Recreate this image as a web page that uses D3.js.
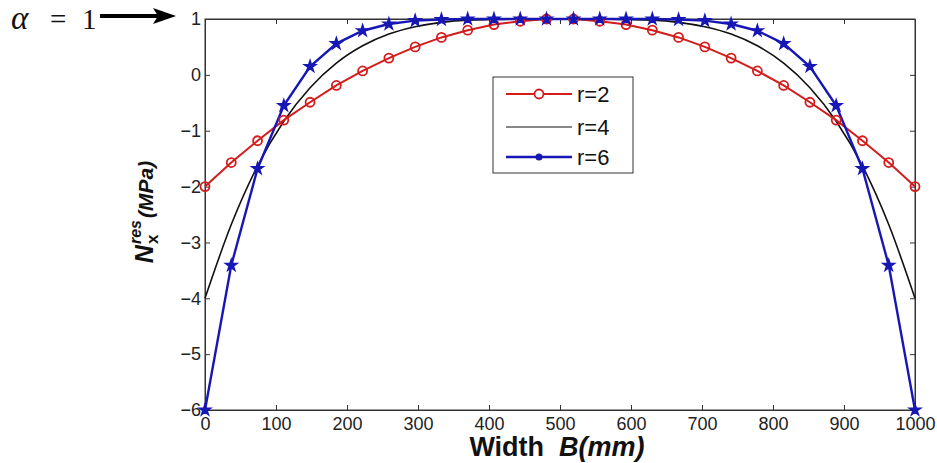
<!DOCTYPE html>
<html>
<head>
<meta charset="utf-8">
<script src="https://cdn.jsdelivr.net/npm/d3@7"></script>
<style>
  body { margin: 0; background: #fff; }
  svg { display: block; font-family: "Liberation Sans", Arial, sans-serif; }
  .axis text { font-size: 18px; fill: #222; }
  .axis path, .axis line { stroke: #333; }
</style>
</head>
<body>
<svg id="chart" width="937" height="463"></svg>
<script>
// width positions (mm) of the plotted points
var widths = [0, 37, 74, 111, 148, 185, 222, 259, 296, 333, 370, 407, 444, 481,
              519, 556, 593, 630, 667, 704, 741, 778, 815, 852, 889, 926, 963, 1000];
// N_x^res (MPa)
var r2 = [-2.00, -1.57, -1.18, -0.81, -0.49, -0.19, 0.07, 0.30, 0.50, 0.67, 0.80, 0.90, 0.96, 1.00,
          1.00, 0.96, 0.90, 0.80, 0.67, 0.50, 0.30, 0.07, -0.19, -0.49, -0.81, -1.18, -1.57, -2.00];
var r4 = [-4.00, -2.68, -1.63, -0.83, -0.23, 0.21, 0.52, 0.73, 0.86, 0.94, 0.98, 0.99, 1.00, 1.00,
          1.00, 1.00, 0.99, 0.98, 0.94, 0.86, 0.73, 0.52, 0.21, -0.23, -0.83, -1.63, -2.68, -4.00];
var r6 = [-6.00, -3.41, -1.68, -0.55, 0.15, 0.56, 0.79, 0.91, 0.97, 0.99, 1.00, 1.00, 1.00, 1.00,
          1.00, 1.00, 1.00, 1.00, 0.99, 0.97, 0.91, 0.79, 0.56, 0.15, -0.55, -1.68, -3.41, -6.00];
var seriesNames = ["r=2", "r=4", "r=6"];
var xTicks = [0, 100, 200, 300, 400, 500, 600, 700, 800, 900, 1000];
var yTicks = [-6, -5, -4, -3, -2, -1, 0, 1];

(function () {
    var margin = { left: 205, top: 19, right: 22, bottom: 53 };
    var dim = { width: 937 - margin.left - margin.right, height: 463 - margin.top - margin.bottom };
    var x = d3.scaleLinear().domain([0, 1000]).range([0, dim.width]);
    var y = d3.scaleLinear().domain([-6, 1]).range([dim.height, 0]);
    var fmt = d3.format("d");

    var svg = d3.select("#chart");
    var chart = svg.append("g")
        .attr("transform", "translate(" + margin.left + "," + margin.top + ")");

    // frame + inward ticks (matlab style)
    chart.append("rect").attr("width", dim.width).attr("height", dim.height)
        .attr("fill", "#fff").attr("stroke", "#333");
    chart.append("g").attr("class", "x axis")
        .attr("transform", "translate(0," + dim.height + ")")
        .call(d3.axisBottom(x).tickValues(xTicks).tickFormat(fmt).tickSize(-5).tickSizeOuter(0).tickPadding(7));
    chart.append("g").attr("class", "x axis top")
        .call(d3.axisTop(x).tickValues(xTicks).tickSize(-5).tickSizeOuter(0).tickFormat(""));
    chart.append("g").attr("class", "y axis")
        .call(d3.axisLeft(y).tickValues(yTicks).tickFormat(fmt).tickSize(-5).tickSizeOuter(0).tickPadding(4));
    chart.append("g").attr("class", "y axis right")
        .attr("transform", "translate(" + dim.width + ",0)")
        .call(d3.axisRight(y).tickValues(yTicks).tickSize(-5).tickSizeOuter(0).tickFormat(""));

    var red = "#d41c1c", blue = "#1717b5";
    var lineOf = function (vals) {
        return d3.line().x(function (d, i) { return x(widths[i]); })
            .y(function (d) { return y(d); })(vals);
    };
    var smoothOf = function (vals) {
        return d3.line().curve(d3.curveMonotoneX).x(function (d, i) { return x(widths[i]); })
            .y(function (d) { return y(d); })(vals);
    };

    chart.append("path").attr("d", smoothOf(r4)).attr("fill", "none")
        .attr("stroke", "#111").attr("stroke-width", 1.6);
    chart.append("path").attr("d", lineOf(r2)).attr("fill", "none")
        .attr("stroke", red).attr("stroke-width", 2);
    chart.append("path").attr("d", lineOf(r6)).attr("fill", "none")
        .attr("stroke", blue).attr("stroke-width", 2.4);

    chart.selectAll("circle.r2").data(r2).enter().append("circle").attr("class", "r2")
        .attr("cx", function (d, i) { return x(widths[i]); })
        .attr("cy", function (d) { return y(d); })
        .attr("r", 4.5).attr("fill", "none").attr("stroke", red).attr("stroke-width", 1.8);

    var star = d3.symbol().type(d3.symbolStar).size(38);
    chart.selectAll("path.r6").data(r6).enter().append("path").attr("class", "r6")
        .attr("transform", function (d, i) { return "translate(" + x(widths[i]) + "," + y(d) + ")"; })
        .attr("d", star).attr("fill", blue).attr("stroke", blue).attr("stroke-width", 1.6);

    // legend
    var leg = svg.append("g").attr("transform", "translate(493,77)");
    leg.append("rect").attr("width", 140).attr("height", 96)
        .attr("fill", "#fff").attr("stroke", "#333");
    var rowsY = [17, 50, 80];
    var legColors = [red, "#111", blue];
    var legWidths = [2, 1, 2.4];
    seriesNames.forEach(function (name, i) {
        var row = leg.append("g").attr("transform", "translate(0," + rowsY[i] + ")");
        row.append("line").attr("x1", 13).attr("x2", 79).attr("y1", 0).attr("y2", 0)
            .attr("stroke", legColors[i]).attr("stroke-width", legWidths[i]);
        if (i === 0) {
            row.append("circle").attr("cx", 46).attr("cy", 0).attr("r", 4.5)
                .attr("fill", "#fff").attr("stroke", red).attr("stroke-width", 1.8);
        }
        if (i === 2) {
            row.append("circle").attr("cx", 46).attr("cy", 0).attr("r", 3.5).attr("fill", blue);
        }
        row.append("text").attr("x", 84).attr("y", 0).attr("dy", "0.36em")
            .style("font-size", "22px").style("fill", "#111").text(name);
    });

    // x label
    var xl = svg.append("text").attr("x", 557).attr("y", 456)
        .attr("text-anchor", "middle").style("font-size", "27px").style("font-weight", "bold")
        .style("fill", "#111");
    xl.append("tspan").text("Width\u00a0\u00a0");
    xl.append("tspan").style("font-style", "italic").text("B(mm)");

    // y label, N_x^res (MPa)
    var yl = svg.append("g").attr("transform", "translate(153,212) rotate(-90)")
        .style("font-weight", "bold").style("fill", "#111");
    var nT = yl.append("text").style("font-size", "25px").style("font-style", "italic").text("N");
    var nW = nT.node().getComputedTextLength();
    var supT = yl.append("text").attr("x", nW + 1).attr("y", -12)
        .style("font-size", "16px").style("font-style", "italic").text("res");
    yl.append("text").attr("x", nW + 1).attr("y", 5).style("font-size", "17px").text("x");
    var supW = supT.node().getComputedTextLength();
    var unitT = yl.append("text").attr("x", nW + supW + 3).style("font-size", "21px")
        .style("font-style", "italic").text("(MPa)");
    var total = nW + supW + 3 + unitT.node().getComputedTextLength();
    yl.selectAll("text").attr("transform", "translate(" + (-total / 2) + ",0)");

    // alpha = 1 annotation with arrow
    var ann = svg.append("g").style("font-family", "'Liberation Serif', serif")
        .style("font-size", "29px").style("fill", "#111");
    ann.append("text").attr("x", 11).attr("y", 29).style("font-style", "italic")
        .style("font-size", "33px").text("\u03b1");
    ann.append("text").attr("x", 50).attr("y", 29).text("=");
    ann.append("text").attr("x", 82).attr("y", 29).text("1");
    svg.append("line").attr("x1", 100).attr("x2", 158).attr("y1", 16).attr("y2", 16)
        .attr("stroke", "#000").attr("stroke-width", 4);
    svg.append("path").attr("d", d3.line()([[153, 8], [176, 16], [153, 24], [158, 16]]))
        .attr("fill", "#000");
})();
</script>
</body>
</html>
